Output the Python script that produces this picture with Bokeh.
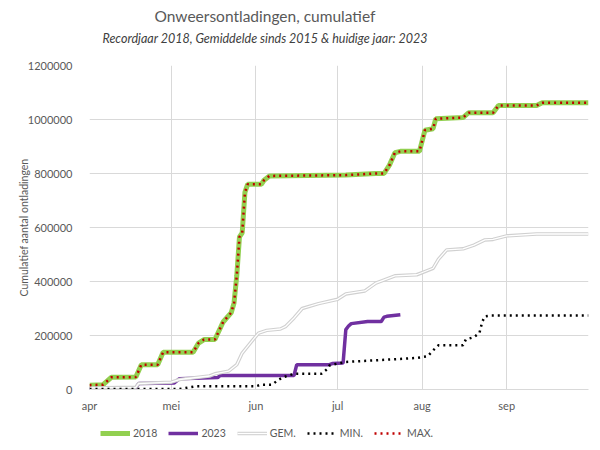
from bokeh.plotting import figure
from bokeh.layouts import column
from bokeh.models import (Range1d, FixedTicker, Title, Legend, LegendItem,
                          NumeralTickFormatter)
from bokeh.embed import file_html
from bokeh.resources import INLINE

# ---- data (x = days since 1 April) ----
month_days = [0, 30, 61, 91, 122, 153, 183]
month_labels = ["apr", "mei", "jun", "jul", "aug", "sep", ""]
y_ticks = [0, 200000, 400000, 600000, 800000, 1000000, 1200000]

days_2018 = [0, 5, 8, 17, 19, 25, 27, 38, 40, 42, 46, 49, 52, 53, 54, 55, 56, 57, 58,
             63, 64, 66, 94, 105, 108, 110, 112, 114, 121, 123, 126, 127, 137, 139,
             148, 150, 164, 166, 183]
vals_2018 = [16000, 18000, 45000, 46000, 92000, 92000, 138000, 138000, 172000, 185000,
             185000, 250000, 285000, 320000, 420000, 565000, 580000, 730000, 760000,
             760000, 775000, 791000, 794000, 800000, 800000, 831000, 877000, 882000,
             882000, 960000, 966000, 1003000, 1007000, 1025000, 1025000, 1052000,
             1052000, 1062000, 1062000]

days_2023 = [0, 7, 8, 17, 18, 31, 33, 47, 48, 75, 76, 88, 89, 93, 94, 95, 96, 102, 107,
             108, 109, 114]
vals_2023 = [3000, 3000, 6000, 6000, 22000, 24000, 40000, 44000, 52000, 52000, 92000,
             92000, 96000, 98000, 222000, 235000, 244000, 252000, 252000, 268000,
             271000, 277000]

days_gem = [0, 17, 18, 30, 33, 44, 46, 51, 54, 56, 58, 60, 62, 65, 70, 72, 75, 78, 84,
            91, 94, 101, 105, 112, 120, 123, 126, 128, 131, 137, 141, 145, 148, 153,
            164, 183]
vals_gem = [6000, 8000, 22000, 27000, 37000, 50000, 58000, 68000, 92000, 135000,
            160000, 185000, 209000, 219000, 224000, 234000, 265000, 300000, 318000,
            334000, 354000, 365000, 394000, 421000, 425000, 437000, 449000, 483000,
            517000, 521000, 535000, 554000, 556000, 569000, 576000, 576000]

days_min = [0, 33, 39, 61, 63, 67, 69, 71, 73, 75, 85, 87, 88, 91, 94, 110, 120, 124,
            126, 128, 137, 138, 141, 143, 144, 145, 147, 183]
vals_min = [2000, 2000, 12000, 12000, 18000, 18000, 34000, 45000, 52000, 58000, 58000,
            74000, 89000, 96000, 102000, 111000, 117000, 123000, 145000, 164000, 164000,
            185000, 194000, 209000, 250000, 271000, 274000, 274000]

days_max = days_2018
vals_max = vals_2018

series_labels = ["2018", "2023", "GEM.", "MIN.", "MAX."]

FONT = "Lato"
TXT = "#595959"
GRID = "#d9d9d9"

p = figure(width=600, height=414, output_backend="svg",
           toolbar_location=None, title=None,
           x_range=Range1d(0, 183), y_range=Range1d(0, 1200000),
           min_border_left=89, min_border_right=12, min_border_top=65,
           min_border_bottom=24)
p.outline_line_color = None

spacer = Title(text=" ", text_font=FONT, text_font_size="4px", standoff=13)
sub = Title(text="Recordjaar 2018, Gemiddelde sinds 2015 & huidige jaar: 2023",
            text_font=FONT, text_font_style="italic", text_font_size="12.5px",
            text_color="#404040", align="left", offset=13, standoff=0)
main = Title(text="Onweersontladingen, cumulatief", text_font=FONT,
             text_font_style="normal", text_font_size="15.5px", text_color=TXT,
             align="left", offset=65, standoff=8)
p.add_layout(spacer, "above")
p.add_layout(sub, "above")
p.add_layout(main, "above")

# axes
p.xaxis.ticker = FixedTicker(ticks=month_days)
p.xaxis.major_label_overrides = {d: l for d, l in zip(month_days, month_labels)}
p.yaxis.ticker = FixedTicker(ticks=y_ticks)
p.yaxis.formatter = NumeralTickFormatter(format="0")
for ax in (p.xaxis[0], p.yaxis[0]):
    ax.major_tick_line_color = None
    ax.minor_tick_line_color = None
    ax.major_label_text_font = FONT
    ax.major_label_text_font_size = "11px"
    ax.major_label_text_color = TXT
p.xaxis.axis_line_color = GRID
p.yaxis.axis_line_color = None
p.xaxis.major_label_standoff = 3
p.yaxis.major_label_standoff = 11
p.yaxis.axis_label = "Cumulatief aantal ontladingen"
p.yaxis.axis_label_text_font = FONT
p.yaxis.axis_label_text_font_size = "10.5px"
p.yaxis.axis_label_text_font_style = "normal"
p.yaxis.axis_label_text_color = TXT
p.yaxis.axis_label_standoff = -5

p.xgrid.ticker = FixedTicker(ticks=month_days)
p.ygrid.ticker = FixedTicker(ticks=y_ticks)
p.xgrid.grid_line_color = GRID
p.ygrid.grid_line_color = GRID

styles = [
    dict(line_color="#92d050", line_width=5),
    dict(line_color="#7030a0", line_width=3.5),
    dict(line_color="#d0d0d0", line_width=3.5),
    dict(line_color="black", line_width=2.5, line_dash="2 4"),
    dict(line_color="#c00000", line_width=2.5, line_dash="2 4"),
]
gem_inner = dict(line_color="white", line_width=1.3)
series_data = [(days_2018, vals_2018), (days_2023, vals_2023), (days_gem, vals_gem),
               (days_min, vals_min), (days_max, vals_max)]

# series on the main chart
p.line(days_2018, vals_2018, **styles[0])
p.line(days_2023, vals_2023, **styles[1])
p.line(days_gem, vals_gem, **styles[2])
p.line(days_gem, vals_gem, **gem_inner)
p.line(days_min, vals_min, **styles[3])
p.line(days_max, vals_max, **styles[4])

# legend strip below the chart (its series lie outside its visible range)
lg = figure(width=600, height=36, output_backend="svg", toolbar_location=None,
            title=None, x_range=Range1d(0, 183), y_range=Range1d(-20, -10),
            x_axis_location=None, y_axis_location=None, min_border=0)
lg.outline_line_color = None
lg.xgrid.visible = False
lg.ygrid.visible = False
items = []
for lab, st, (xs, ys) in zip(series_labels, styles, series_data):
    rs = [lg.line(xs, ys, **st)]
    if lab == "GEM.":
        rs.append(lg.line(xs, ys, **gem_inner))
    items.append(LegendItem(label=lab, renderers=rs))
legend = Legend(items=items, orientation="horizontal", location=(11, 11),
                glyph_width=30, glyph_height=12, label_standoff=3, spacing=11,
                padding=0, margin=0, label_text_font=FONT,
                label_text_font_size="10.5px", label_text_color=TXT,
                border_line_color=None, background_fill_alpha=0)
lg.add_layout(legend, "center")

open("out.html", "w").write(file_html(column(p, lg, spacing=0), INLINE))
